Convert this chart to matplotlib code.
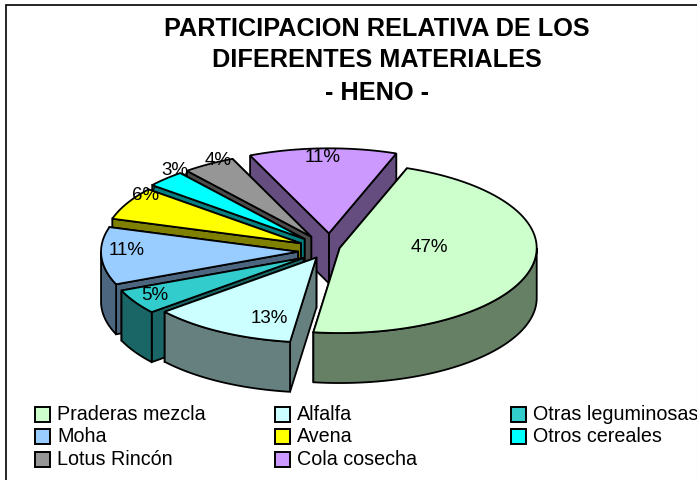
import matplotlib
matplotlib.use('Agg')
import matplotlib.pyplot as plt
from matplotlib.patches import Polygon, Rectangle
import numpy as np

plt.rcParams['font.family'] = ['Liberation Sans', 'DejaVu Sans']

materials = ['Praderas mezcla', 'Alfalfa', 'Otras leguminosas', 'Moha',
             'Avena', 'Otros cereales', 'Lotus Rincón', 'Cola cosecha']
shares = [47, 13, 5, 11, 6, 3, 4, 11]
title_lines = ['PARTICIPACION RELATIVA DE LOS', 'DIFERENTES MATERIALES', '- HENO -']

colors = ['#CCFFCC', '#CCFFFF', '#33CCCC', '#99CCFF', '#FFFF00', '#00FFFF', '#969696', '#CC99FF']
walls = ['#668066', '#668080', '#1A6666', '#4D6680', '#808000', '#008080', '#4B4B4B', '#664D80']

# pie geometry, in pixels
cx, cy = 330, 248
rx, ry = 197, 85
depth = 50
start_angle = 70
explode = [10, 28, 31, 32, 33, 36, 36, 34]
sag = [0, 0, 4, 4, 3, 3, 3, 1]
label_x = [429, 269, 155, 127, 146, 175, 218, 323]
label_y = [248, 319, 296, 251, 196, 171, 161, 158]

W, H = 697, 481
fig = plt.figure(figsize=(W / 100, H / 100), dpi=100)
ax = fig.add_axes([0, 0, 1, 1])
ax.set_xlim(0, W)
ax.set_ylim(H, 0)
ax.axis('off')

ax.add_patch(Rectangle((5.5, 5.5), W + 10, H + 10, facecolor='white', edgecolor='black', lw=1.2, zorder=0))
ax.plot([696.5, 696.5], [7, H], color='#e6e6e6', lw=0.8, zorder=0.5)


def ellipse_pts(x0, y0, t1, t2, n=80):
    t = np.radians(np.linspace(t1, t2, n))
    return np.column_stack([x0 + rx * np.cos(t), y0 - ry * np.sin(t)])


def draw_slice(t_hi, t_lo, off, drop, face, wall, z):
    mid = np.radians((t_hi + t_lo) / 2)
    x0 = cx + off * np.cos(mid)
    y0 = cy + drop - off * ry / rx * np.sin(mid)
    down = np.array([0, depth])
    arc = ellipse_pts(x0, y0, t_lo, t_hi)
    apex = np.array([[x0, y0]])
    # the two cut faces
    for end in (arc[0], arc[-1]):
        quad = np.vstack([apex, [end], [end + down], apex + down])
        ax.add_patch(Polygon(quad, closed=True, facecolor=wall, edgecolor='black', lw=1.3, zorder=z))
    # outer wall, only the part that faces the viewer
    for k in (-360, 0, 360):
        a = max(t_lo, 180 + k)
        b = min(t_hi, 360 + k)
        if b > a:
            rim = ellipse_pts(x0, y0, a, b)
            ax.add_patch(Polygon(np.vstack([rim, rim[::-1] + down]), closed=True,
                                 facecolor=wall, edgecolor='black', lw=1.3, zorder=z))
    ax.add_patch(Polygon(np.vstack([apex, arc]), closed=True, facecolor=face,
                         edgecolor='black', lw=1.3, zorder=z + 0.5))


# slice edges, worked out anticlockwise from the start angle. the view
# squeezes the far left side a little, so the angles there run late
spans = np.array(shares) * 3.6
ccw = start_angle + np.concatenate([[0], np.cumsum(spans[::-1])])
ccw_view = ccw + 7 * np.sin(np.pi * np.clip(ccw - start_angle, 0, 205) / 205)
view_edges = ccw_view[::-1] - 360

# back to front
order = [7, 6, 5, 4, 3, 2, 1, 0]
for z, i in enumerate(order):
    draw_slice(view_edges[i], view_edges[i + 1], explode[i], sag[i], colors[i], walls[i], z + 1)

for i, s in enumerate(shares):
    ax.text(label_x[i], label_y[i], f'{s}%', ha='center', va='center',
            fontsize=13.5, color='black', zorder=20)

for y, line in zip([29, 60, 93], title_lines):
    ax.text(377, y, line, ha='center', va='center', fontsize=18.2,
            fontweight='bold', color='black', zorder=20)

# legend, filled row by row
leg_x = [35, 275, 511]
leg_y = [415, 437, 460]
for i, (name, c) in enumerate(zip(materials, colors)):
    x = leg_x[i % 3]
    y = leg_y[i // 3]
    ax.add_patch(Rectangle((x, y - 7), 15, 15, facecolor=c, edgecolor='black', lw=1.4, zorder=20))
    ax.text(x + 22, y, name, ha='left', va='center', fontsize=14.2, color='black', zorder=20)

fig.savefig('out.png', dpi=100, facecolor='white')
